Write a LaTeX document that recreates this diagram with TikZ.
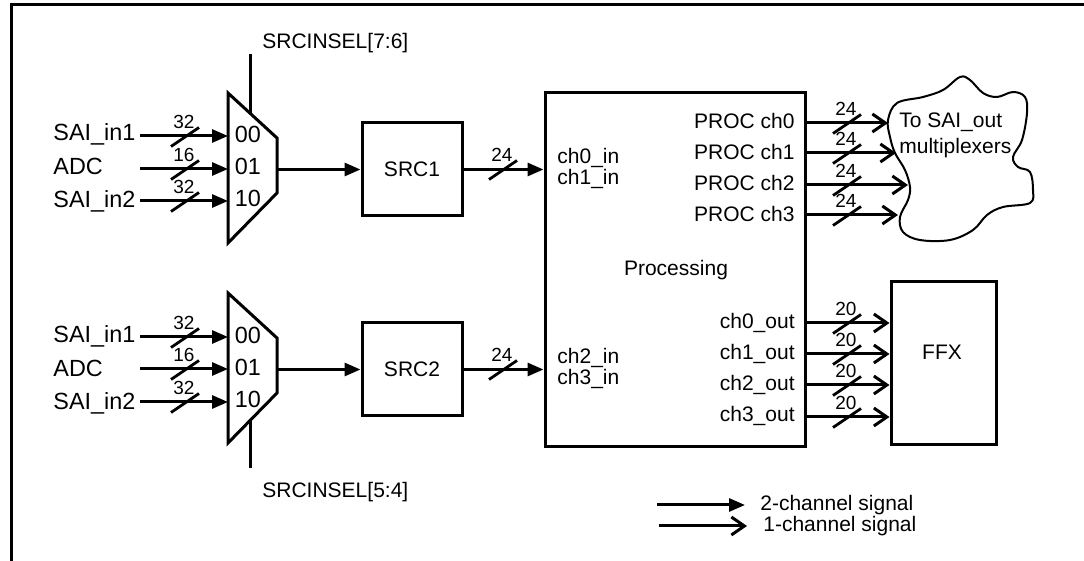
\documentclass[tikz,border=0pt]{standalone}
\usepackage{fontspec}
\setmainfont{Liberation Sans}
\usetikzlibrary{arrows.meta}
\begin{document}
\begin{tikzpicture}[x=0.5pt,y=-0.5pt,
  every node/.style={inner sep=0pt, font=\fontsize{10.5}{13}\selectfont, text height=7.5pt, text depth=0pt},
  big/.style={font=\fontsize{11.7}{14}\selectfont, text height=8.4pt},
  num/.style={font=\fontsize{9.5}{11}\selectfont, text height=6.8pt},
  thickline/.style={line width=1.5pt},
  box/.style={draw, line width=1.5pt, rectangle},
  sigtwo/.style={line width=1.5pt, -{Triangle[length=8pt,width=6.5pt]}},
  sigone/.style={line width=1.5pt, -{Straight Barb[length=6.5pt,width=9pt,line width=1.5pt]}},
  busmark/.pic={\draw[line width=1.4pt] (-14,9.5) -- (14,-9.5); \node[num] at (-1,-15) {#1};}
]
\useasboundingbox (0,0) rectangle (1084,561);
% frame
\draw[line width=1.5pt] (1084,5) -- (11,5) -- (11,561);

% ---------- mux 1 ----------
\coordinate (m1a) at (228,93);
\coordinate (m1b) at (277,138);
\coordinate (m1c) at (277,193);
\coordinate (m1d) at (228,243);
\draw[thickline] (m1a) -- (m1b) -- (m1c) -- (m1d) -- cycle;
\coordinate (s1top) at (250,54);
\coordinate (s1bot) at (250,113.2);
\draw[thickline] (s1top) -- (s1bot);
\node[anchor=west] (sel1) at (262,41) {SRCINSEL[7:6]};
\node[big, anchor=west] (a1) at (53,132) {SAI\_in1};
\node[big, anchor=west] (a2) at (53,166) {ADC};
\node[big, anchor=west] (a3) at (53,199) {SAI\_in2};
\coordinate (a1s) at (140,136); \coordinate (a1e) at (228,136);
\coordinate (a2s) at (140,169); \coordinate (a2e) at (228,169);
\coordinate (a3s) at (140,201); \coordinate (a3e) at (228,201);
\draw[sigtwo] (a1s) -- (a1e);
\draw[sigtwo] (a2s) -- (a2e);
\draw[sigtwo] (a3s) -- (a3e);
\pic at (185,137) {busmark=32};
\pic at (185,170) {busmark=16};
\pic at (185,202) {busmark=32};
\node[big] (m1l0) at (248,134.5) {00};
\node[big] (m1l1) at (248,166.5) {01};
\node[big] (m1l2) at (248,198) {10};

% ---------- mux 2 ----------
\coordinate (m2a) at (228,293);
\coordinate (m2b) at (277,338);
\coordinate (m2c) at (277,393);
\coordinate (m2d) at (228,443);
\draw[thickline] (m2a) -- (m2b) -- (m2c) -- (m2d) -- cycle;
\coordinate (s2top) at (250,420.6);
\coordinate (s2bot) at (250,468);
\draw[thickline] (s2top) -- (s2bot);
\node[anchor=west] (sel2) at (262,490) {SRCINSEL[5:4]};
\node[big, anchor=west] (b1) at (53,334) {SAI\_in1};
\node[big, anchor=west] (b2) at (53,368) {ADC};
\node[big, anchor=west] (b3) at (53,401) {SAI\_in2};
\coordinate (b1s) at (140,337); \coordinate (b1e) at (228,337);
\coordinate (b2s) at (140,369); \coordinate (b2e) at (228,369);
\coordinate (b3s) at (140,402); \coordinate (b3e) at (228,402);
\draw[sigtwo] (b1s) -- (b1e);
\draw[sigtwo] (b2s) -- (b2e);
\draw[sigtwo] (b3s) -- (b3e);
\pic at (185,338) {busmark=32};
\pic at (185,370) {busmark=16};
\pic at (185,403) {busmark=32};
\node[big] (m2l0) at (248,335) {00};
\node[big] (m2l1) at (248,367) {01};
\node[big] (m2l2) at (248,399) {10};

% ---------- SRC boxes ----------
\node[box, minimum width=50pt, minimum height=46.5pt] (src1) at (412,169.5) {SRC1};
\node[box, minimum width=50pt, minimum height=46.5pt] (src2) at (412,369.5) {SRC2};
\coordinate (m1o) at (277,169.5);
\coordinate (m2o) at (277,369.5);
\draw[sigtwo] (m1o) -- (src1.west);
\draw[sigtwo] (m2o) -- (src2.west);

% ---------- processing ----------
\node[box, minimum width=130pt, minimum height=177pt] (proc) at (675,270) {};
\node (proclab) at (676,268) {Processing};
\draw[sigtwo] (src1.east) -- (src1.east -| proc.west);
\draw[sigtwo] (src2.east) -- (src2.east -| proc.west);
\pic at (503,170) {busmark=24};
\pic at (503,370) {busmark=24};
\node[anchor=west] (i0) at (557,156) {ch0\_in};
\node[anchor=west] (i1) at (557,177) {ch1\_in};
\node[anchor=west] (i2) at (557,356) {ch2\_in};
\node[anchor=west] (i3) at (557,377) {ch3\_in};

\node[anchor=east] (o0) at (795,121) {PROC ch0};
\node[anchor=east] (o1) at (795,152) {PROC ch1};
\node[anchor=east] (o2) at (795,183) {PROC ch2};
\node[anchor=east] (o3) at (795,214) {PROC ch3};

\node[anchor=east] (q0) at (795,321) {ch0\_out};
\node[anchor=east] (q1) at (795,352) {ch1\_out};
\node[anchor=east] (q2) at (795,383) {ch2\_out};
\node[anchor=east] (q3) at (795,414) {ch3\_out};

% ---------- cloud ----------
\draw[line width=1pt] plot[smooth cycle, tension=0.6] coordinates {
 (888,120) (897,103) (923,97) (943,90) (960,77) (970,80) (983,93) (997,97)
 (1013,92) (1025,97) (1027,113) (1022,140) (1013,157) (1018,167) (1030,172)
 (1033,190) (1030,203) (1003,207) (987,215) (973,230) (950,240) (920,240)
 (903,232) (900,217) (908,200) (910,187) (905,170) (895,153) (890,137)};
\node[align=left, anchor=west, text height=, text depth=] (cloudlab) at (899,135) {To SAI\_out\\multiplexers};
\coordinate (c0) at (888,123);
\coordinate (c1) at (896,153);
\coordinate (c2) at (908,185);
\coordinate (c3) at (898,215);
\draw[sigone] (c0 -| proc.east) -- (c0);
\draw[sigone] (c1 -| proc.east) -- (c1);
\draw[sigone] (c2 -| proc.east) -- (c2);
\draw[sigone] (c3 -| proc.east) -- (c3);
\pic at (847,124) {busmark=24};
\pic at (847,154) {busmark=24};
\pic at (847,186) {busmark=24};
\pic at (847,216) {busmark=24};

% ---------- FFX ----------
\node[box, minimum width=52.5pt, minimum height=81.5pt] (ffx) at (943.5,363.5) {};
\node (ffxlab) at (942,352) {FFX};
\coordinate (f0) at (ffx.west |- 0,323);
\coordinate (f1) at (ffx.west |- 0,354);
\coordinate (f2) at (ffx.west |- 0,385);
\coordinate (f3) at (ffx.west |- 0,417);
\draw[sigone] (f0 -| proc.east) -- (f0);
\draw[sigone] (f1 -| proc.east) -- (f1);
\draw[sigone] (f2 -| proc.east) -- (f2);
\draw[sigone] (f3 -| proc.east) -- (f3);
\pic at (847,324) {busmark=20};
\pic at (847,355) {busmark=20};
\pic at (847,386) {busmark=20};
\pic at (847,418) {busmark=20};

% ---------- legend ----------
\coordinate (l1a) at (657,505); \coordinate (l1b) at (745,505);
\coordinate (l2a) at (659,526); \coordinate (l2b) at (747,526);
\draw[sigtwo] (l1a) -- (l1b);
\draw[sigone] (l2a) -- (l2b);
\node[anchor=west] (lt1) at (760,503) {2-channel signal};
\node[anchor=west] (lt2) at (763,524) {1-channel signal};
\end{tikzpicture}
\end{document}
